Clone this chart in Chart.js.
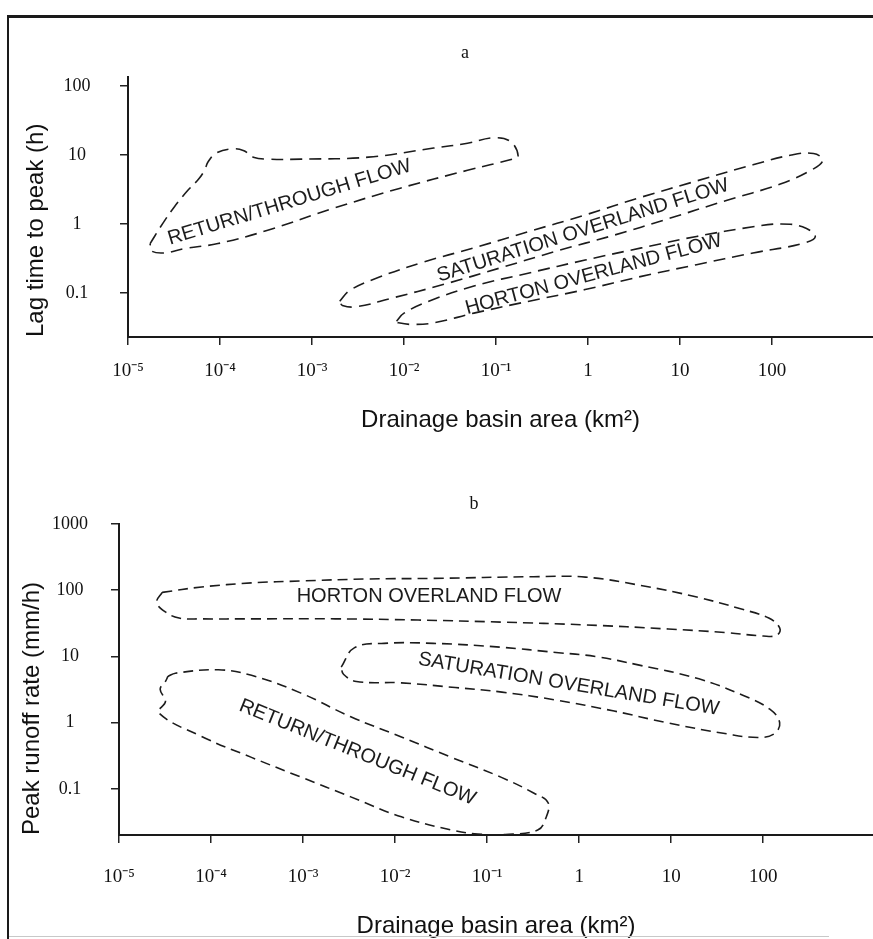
<!DOCTYPE html>
<html>
<head>
<meta charset="utf-8">
<script src="https://cdn.jsdelivr.net/npm/chart.js@4.4.1/dist/chart.umd.min.js"></script>
<style>
  html, body { margin: 0; padding: 0; background: #fff; overflow: hidden; }
  #wrap { position: relative; width: 873px; height: 939px; overflow: hidden; background: #fff; }
  .panel { position: absolute; left: 0; width: 873px; }
  #pa { top: 0; height: 470px; }
  #pb { top: 470px; height: 475px; }
  .ptitle { position: absolute; font-family: "Liberation Serif", serif; font-size: 18px; color: #111;
            transform: translate(-50%, -50%); line-height: 1; }
  #frameTop { position: absolute; left: 7px; top: 15px; width: 866px; height: 0; border-top: 3px solid #1a1a1a; }
  #frameLeft { position: absolute; left: 7px; top: 15px; width: 0; height: 924px; border-left: 2px solid #1a1a1a; }
  #frameBottom { position: absolute; left: 9px; top: 936px; width: 820px; height: 0; border-top: 1px solid #c8c8c8; }
</style>
</head>
<body>
<div id="wrap">
  <div class="panel" id="pa"><canvas id="chartA"></canvas></div>
  <div class="panel" id="pb"><canvas id="chartB"></canvas></div>
  <div class="ptitle" style="left:465px; top:52px;">a</div>
  <div class="ptitle" style="left:474px; top:503px;">b</div>
  <div id="frameTop"></div>
  <div id="frameLeft"></div>
  <div id="frameBottom"></div>
</div>
<script>
// ---------- tick values and labels ----------
const xTickValues = [1e-5, 1e-4, 1e-3, 1e-2, 1e-1, 1, 10, 100];
const xTickLabels = ['10\u207B\u2075', '10\u207B\u2074', '10\u207B\u00B3', '10\u207B\u00B2', '10\u207B\u00B9', '1', '10', '100'];
const yTickValuesA = [0.1, 1, 10, 100];
const yTickLabelsA = ['0.1', '1', '10', '100'];
const yTickValuesB = [0.1, 1, 10, 100, 1000];
const yTickLabelsB = ['0.1', '1', '10', '100', '1000'];

// ---------- panel a: lag time to peak (h) envelopes ----------
const returnA_x = [1.74e-5, 2.4e-5, 3.2e-5, 4.5e-5, 5.8e-5, 6.8e-5, 7.4e-5, 9.1e-5, 1.41e-4, 1.82e-4, 2.3e-4, 3.3e-4, 7.6e-4, 4.1e-3, 0.021, 0.049, 0.095, 0.145, 0.174, 0.15, 0.049, 9.1e-3, 1.74e-3, 3.3e-4, 9.5e-5, 4.1e-5, 2.45e-5, 1.78e-5, 1.74e-5];
const returnA_y = [0.52, 1.03, 1.78, 3.1, 4.4, 6.0, 7.9, 10.7, 12.3, 11.5, 9.3, 8.7, 8.7, 9.3, 12.6, 14.8, 17.8, 15.5, 9.6, 8.7, 6.0, 3.3, 1.7, 0.81, 0.52, 0.44, 0.38, 0.41, 0.52];

const saturationA_x = [2.0e-3, 2.6e-3, 5.4e-3, 0.0162, 0.0575, 0.229, 0.93, 3.8, 15.1, 62, 162, 282, 355, 282, 123, 30, 7.6, 1.86, 0.47, 0.115, 0.028, 7.1e-3, 3.0e-3, 2.14e-3, 2.0e-3];
const saturationA_y = [0.076, 0.11, 0.17, 0.28, 0.45, 0.78, 1.35, 2.45, 4.2, 7.2, 10, 10.5, 8.5, 6.3, 3.8, 2.14, 1.2, 0.68, 0.41, 0.234, 0.135, 0.083, 0.063, 0.066, 0.076];

const hortonA_x = [8.3e-3, 0.010, 0.0186, 0.0575, 0.229, 0.93, 3.8, 15.1, 62, 123, 214, 295, 214, 62, 15.1, 3.8, 0.93, 0.229, 0.0575, 0.0214, 0.0123, 8.7e-3, 8.3e-3];
const hortonA_y = [0.039, 0.051, 0.076, 0.126, 0.195, 0.30, 0.45, 0.66, 0.91, 1.0, 0.91, 0.66, 0.52, 0.38, 0.257, 0.174, 0.112, 0.076, 0.051, 0.037, 0.035, 0.037, 0.039];

// ---------- panel b: peak runoff rate (mm/h) envelopes ----------
const hortonB_x = [2.95e-5, 7.9e-5, 2.75e-4, 9.5e-4, 5.1e-3, 0.026, 0.32, 1.17, 4.7, 19, 58, 115, 151, 141, 100, 38, 9.3, 1.17, 0.145, 0.0178, 2.24e-3, 2.75e-4, 7.9e-5, 4.5e-5, 3.2e-5, 2.57e-5, 2.95e-5];
const hortonB_y = [93, 112, 129, 138, 148, 151, 160, 158, 118, 79, 52, 38, 27, 21, 20.4, 23, 26, 30, 33, 35.5, 37, 37, 37, 38, 47, 66, 93];

const saturationB_x = [2.6e-3, 3.6e-3, 7.6e-3, 0.026, 0.141, 0.56, 1.5, 4.5, 20, 60, 118, 151, 132, 87, 40, 9.0, 2.4, 0.56, 0.145, 0.045, 0.0117, 3.8e-3, 2.75e-3, 2.6e-3];
const saturationB_y = [6.9, 13.5, 15.8, 15.8, 13.8, 11.5, 10.0, 7.4, 4.6, 2.6, 1.6, 1.0, 0.68, 0.60, 0.68, 1.0, 1.5, 2.2, 2.9, 3.4, 4.0, 4.2, 5.4, 6.9];

const returnB_x = [3.4e-5, 4.1e-5, 1.2e-4, 2.75e-4, 9.5e-4, 3.3e-3, 0.0117, 0.041, 0.141, 0.32, 0.46, 0.43, 0.355, 0.158, 0.079, 0.041, 0.0117, 3.3e-3, 9.5e-4, 2.75e-4, 7.9e-5, 2.7e-5, 3.2e-5, 2.8e-5, 3.2e-5, 3.4e-5];
const returnB_y = [5.0, 5.6, 6.3, 5.2, 2.8, 1.23, 0.61, 0.30, 0.151, 0.087, 0.062, 0.035, 0.024, 0.0205, 0.0209, 0.024, 0.038, 0.076, 0.151, 0.30, 0.62, 1.41, 2.1, 3.2, 4.2, 5.0];

// ---------- region names ----------
const regionNames = ['RETURN/THROUGH FLOW', 'SATURATION OVERLAND FLOW', 'HORTON OVERLAND FLOW'];

// ---------- helpers ----------
const INK = '#1c1c1c';
function zip(xs, ys) { return xs.map((x, i) => ({ x: x, y: ys[i] })); }
function envelope(name, xs, ys, dash) {
  return {
    label: name, data: zip(xs, ys), showLine: true, fill: false,
    borderColor: INK, borderWidth: 1.6, borderDash: dash,
    pointRadius: 0, pointHoverRadius: 0, tension: 0.4
  };
}

const regionLabelPlugin = {
  id: 'regionLabels',
  afterDatasetsDraw(chart, args, opts) {
    const ctx = chart.ctx, xs = chart.scales.x, ys = chart.scales.y;
    (opts.items || []).forEach(it => {
      const px = xs.getPixelForValue(it.x), py = ys.getPixelForValue(it.y);
      ctx.save();
      ctx.translate(px, py);
      ctx.rotate(it.angle * Math.PI / 180);
      ctx.font = opts.font || '20px "Liberation Sans", Arial, sans-serif';
      ctx.fillStyle = opts.color || INK;
      ctx.textAlign = 'center';
      ctx.textBaseline = 'middle';
      ctx.fillText(it.text, 0, 0);
      ctx.restore();
    });
  }
};
Chart.register(regionLabelPlugin);

function makeConfig(p) {
  return {
    type: 'scatter',
    data: { datasets: p.datasets },
    options: {
      responsive: true, maintainAspectRatio: false, animation: false, devicePixelRatio: 1,
      layout: { padding: { left: 0, right: 0, top: p.padTop, bottom: p.padBottom } },
      plugins: {
        legend: { display: false }, tooltip: { enabled: false }, title: { display: false },
        regionLabels: { items: p.labels, font: '20px "Liberation Sans", Arial, sans-serif', color: INK }
      },
      scales: {
        x: {
          type: 'logarithmic', min: p.xMin, max: p.xMax, bounds: 'data',
          afterBuildTicks: s => { s.ticks = xTickValues.map(v => ({ value: v })); },
          ticks: {
            autoSkip: false, maxRotation: 0, minRotation: 0, padding: p.xTickPad, color: '#111',
            font: { family: '"Liberation Serif", serif', size: 19 },
            callback: v => { const i = xTickValues.indexOf(v); return i >= 0 ? xTickLabels[i] : ''; }
          },
          grid: { drawOnChartArea: false, drawTicks: true, tickLength: 8, color: '#222', lineWidth: 1.5 },
          border: { display: true, color: '#1a1a1a', width: 2 },
          title: {
            display: true, text: 'Drainage basin area (km\u00B2)', color: '#111',
            font: { family: '"Liberation Sans", Arial, sans-serif', size: 24 },
            padding: { top: p.xTitlePadTop, bottom: 0 }
          }
        },
        y: {
          type: 'logarithmic', min: p.yMin, max: p.yMax, bounds: 'data',
          afterBuildTicks: s => { s.ticks = p.yTicks.map(v => ({ value: v })); },
          afterFit: s => { s.width = p.yWidth; },
          ticks: {
            autoSkip: false, crossAlign: 'center', padding: p.yTickPad, color: '#111',
            font: { family: '"Liberation Serif", serif', size: 18 },
            callback: v => { const i = p.yTicks.indexOf(v); return i >= 0 ? p.yLabels[i] : ''; }
          },
          grid: { drawOnChartArea: false, drawTicks: true, tickLength: 8, color: '#222', lineWidth: 1.5 },
          border: { display: true, color: '#1a1a1a', width: 2 },
          title: {
            display: true, text: p.yTitle, align: 'start', color: '#111',
            font: { family: '"Liberation Sans", Arial, sans-serif', size: 24 },
            padding: { top: p.yTitlePadTop, bottom: 0 }
          }
        }
      }
    }
  };
}

new Chart(document.getElementById('chartA'), makeConfig({
  datasets: [
    envelope(regionNames[0], returnA_x, returnA_y, [12, 7]),
    envelope(regionNames[1], saturationA_x, saturationA_y, [12, 7]),
    envelope(regionNames[2], hortonA_x, hortonA_y, [12, 7])
  ],
  labels: [
    { text: regionNames[0], x: 5.7e-4, y: 2.05, angle: -17 },
    { text: regionNames[1], x: 0.88, y: 0.80, angle: -17.5 },
    { text: regionNames[2], x: 1.15, y: 0.185, angle: -15 }
  ],
  xMin: 1e-5, xMax: 1250, yMin: 0.023, yMax: 135,
  yTicks: yTickValuesA, yLabels: yTickLabelsA,
  yTitle: 'Lag time to peak (h)',
  padTop: 77, padBottom: 35.6, xTickPad: 14.6, xTitlePadTop: 8.6,
  yWidth: 128, yTickPad: 29.5, yTitlePadTop: 21.6
}));

new Chart(document.getElementById('chartB'), makeConfig({
  datasets: [
    envelope(regionNames[2], hortonB_x, hortonB_y, [10, 6]),
    envelope(regionNames[1], saturationB_x, saturationB_y, [10, 6]),
    envelope(regionNames[0], returnB_x, returnB_y, [10, 6])
  ],
  labels: [
    { text: regionNames[2], x: 0.0234, y: 81, angle: 0 },
    { text: regionNames[1], x: 0.77, y: 3.8, angle: 9.5 },
    { text: regionNames[0], x: 3.9e-3, y: 0.355, angle: 22 }
  ],
  xMin: 1e-5, xMax: 1560, yMin: 0.0202, yMax: 1000,
  yTicks: yTickValuesB, yLabels: yTickLabelsB,
  yTitle: 'Peak runoff rate (mm/h)',
  padTop: 54, padBottom: 4.6, xTickPad: 22.6, xTitlePadTop: 0.6,
  yWidth: 119, yTickPad: 23, yTitlePadTop: 17.6
}));
</script>
</body>
</html>
